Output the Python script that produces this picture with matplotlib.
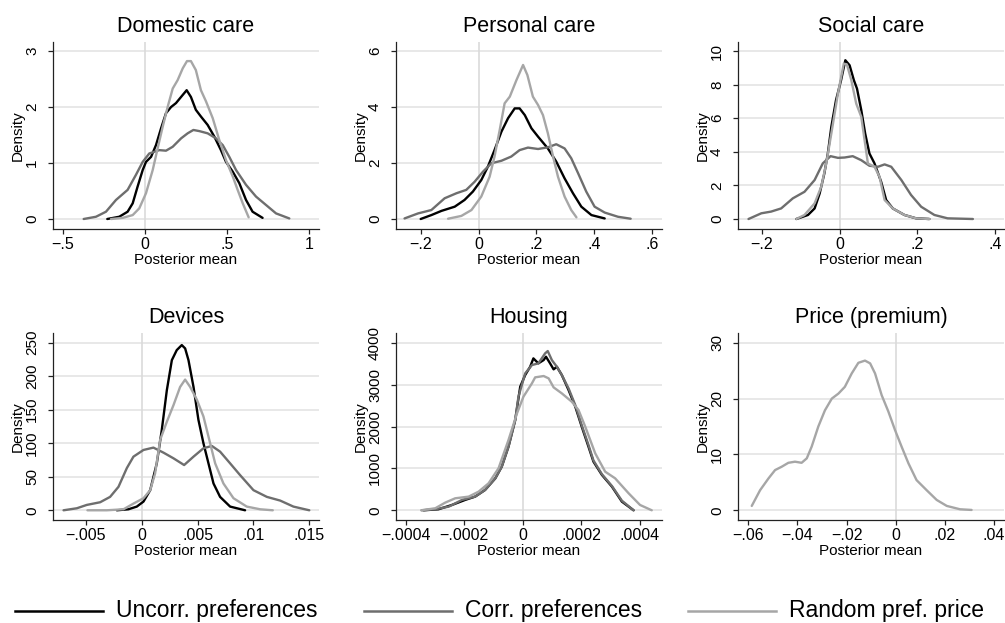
import matplotlib
matplotlib.use("Agg")
import matplotlib.pyplot as plt
from matplotlib.lines import Line2D

plt.rcParams['font.family'] = ['Liberation Sans', 'DejaVu Sans']

# ---------------- data ----------------
series_names = ["Uncorr. preferences", "Corr. preferences", "Random pref. price"]
series_colors = ["#000000", "#6e6e6e", "#a6a6a6"]

titles = ["Domestic care", "Personal care", "Social care", "Devices", "Housing", "Price (premium)"]

# Domestic care
dom_unc_x = [-0.23, -0.157, -0.106, -0.075, -0.045, -0.014, 0.006, 0.037, 0.067, 0.098, 0.128, 0.159, 0.189, 0.22, 0.254, 0.28, 0.31, 0.341, 0.382, 0.423, 0.463, 0.494, 0.535, 0.575, 0.616, 0.656, 0.717]
dom_unc_y = [0, 0.04, 0.13, 0.28, 0.58, 0.875, 1.02, 1.11, 1.32, 1.62, 1.89, 2.0, 2.07, 2.18, 2.30, 2.18, 1.95, 1.83, 1.68, 1.47, 1.23, 1.02, 0.845, 0.64, 0.34, 0.13, 0.02]
dom_cor_x = [-0.374, -0.299, -0.238, -0.177, -0.106, -0.055, -0.014, 0.026, 0.057, 0.087, 0.128, 0.169, 0.22, 0.26, 0.295, 0.331, 0.382, 0.433, 0.474, 0.514, 0.555, 0.616, 0.677, 0.738, 0.799, 0.88]
dom_cor_y = [0, 0.04, 0.13, 0.34, 0.52, 0.79, 1.02, 1.17, 1.20, 1.23, 1.22, 1.29, 1.44, 1.53, 1.59, 1.57, 1.53, 1.44, 1.32, 1.11, 0.875, 0.61, 0.40, 0.25, 0.10, 0.01]
dom_ran_x = [-0.207, -0.136, -0.075, -0.035, 0.006, 0.047, 0.077, 0.108, 0.138, 0.169, 0.199, 0.23, 0.256, 0.28, 0.31, 0.341, 0.372, 0.413, 0.453, 0.494, 0.535, 0.565, 0.596, 0.632]
dom_ran_y = [0, 0.02, 0.07, 0.19, 0.46, 0.875, 1.26, 1.65, 2.0, 2.33, 2.48, 2.69, 2.82, 2.82, 2.66, 2.30, 2.10, 1.80, 1.41, 1.05, 0.76, 0.52, 0.28, 0.03]

# Personal care
per_unc_x = [-0.201, -0.164, -0.129, -0.083, -0.049, -0.020, 0.009, 0.032, 0.055, 0.079, 0.102, 0.125, 0.142, 0.16, 0.183, 0.206, 0.24, 0.269, 0.298, 0.327, 0.356, 0.391, 0.437]
per_unc_y = [0, 0.14, 0.29, 0.44, 0.68, 0.98, 1.39, 1.87, 2.46, 3.12, 3.60, 3.95, 3.95, 3.71, 3.24, 2.94, 2.52, 2.05, 1.45, 0.92, 0.44, 0.14, 0.02]
per_cor_x = [-0.257, -0.210, -0.164, -0.118, -0.077, -0.043, -0.014, 0.015, 0.044, 0.079, 0.113, 0.142, 0.171, 0.206, 0.24, 0.269, 0.298, 0.321, 0.345, 0.373, 0.402, 0.437, 0.483, 0.527]
per_cor_y = [0.02, 0.20, 0.32, 0.74, 0.92, 1.04, 1.33, 1.69, 1.99, 2.08, 2.23, 2.46, 2.55, 2.50, 2.56, 2.67, 2.52, 2.17, 1.63, 0.98, 0.44, 0.23, 0.08, 0.01]
per_ran_x = [-0.106, -0.060, -0.025, 0.009, 0.038, 0.055, 0.073, 0.09, 0.108, 0.131, 0.154, 0.169, 0.188, 0.206, 0.223, 0.24, 0.258, 0.275, 0.298, 0.321, 0.339]
per_ran_y = [0.01, 0.11, 0.32, 0.80, 1.51, 2.23, 3.18, 4.13, 4.37, 4.96, 5.50, 5.14, 4.37, 4.07, 3.71, 3.06, 2.23, 1.51, 0.80, 0.32, 0.06]

# Social care
soc_unc_x = [-0.111, -0.081, -0.064, -0.051, -0.039, -0.030, -0.021, -0.009, 0.004, 0.015, 0.026, 0.037, 0.045, 0.056, 0.066, 0.077, 0.09, 0.107, 0.12, 0.137, 0.167, 0.197, 0.231]
soc_unc_y = [0, 0.24, 0.63, 1.52, 2.71, 3.90, 5.49, 7.07, 8.26, 9.45, 9.15, 8.26, 7.76, 6.48, 5.09, 3.90, 3.31, 2.22, 1.13, 0.63, 0.24, 0.04, 0]
soc_cor_x = [-0.234, -0.201, -0.176, -0.150, -0.120, -0.090, -0.064, -0.043, -0.023, -0.004, 0.013, 0.034, 0.056, 0.077, 0.099, 0.116, 0.133, 0.159, 0.184, 0.21, 0.244, 0.278, 0.343]
soc_cor_y = [0, 0.34, 0.44, 0.63, 1.23, 1.62, 2.32, 3.31, 3.74, 3.64, 3.66, 3.74, 3.50, 3.17, 3.11, 3.25, 3.11, 2.32, 1.43, 0.73, 0.24, 0.04, 0]
soc_ran_x = [-0.111, -0.090, -0.064, -0.047, -0.034, -0.021, -0.004, 0.011, 0.019, 0.030, 0.043, 0.056, 0.073, 0.09, 0.103, 0.116, 0.137, 0.167, 0.197, 0.231]
soc_ran_y = [0, 0.24, 0.93, 1.92, 3.31, 5.09, 7.47, 9.25, 9.2, 8.3, 6.87, 6.08, 3.31, 3.11, 2.51, 1.13, 0.63, 0.24, 0.04, 0]

# Devices
dev_unc_x = [-0.00224, -0.0012, -0.00045, 0.00015, 0.00075, 0.00134, 0.00179, 0.00224, 0.00269, 0.00313, 0.00358, 0.00388, 0.00418, 0.00463, 0.00507, 0.00552, 0.00597, 0.00642, 0.00701, 0.00791, 0.00925]
dev_unc_y = [0, 1.5, 5.5, 13, 30, 70, 120, 179, 224, 239, 246.5, 241.5, 224, 184, 135, 100, 70, 40, 20, 5.5, 0]
dev_cor_x = [-0.00701, -0.00582, -0.00493, -0.00373, -0.00284, -0.00209, -0.00134, -0.00075, 0.00015, 0.00104, 0.00194, 0.00284, 0.00379, 0.00463, 0.00552, 0.00627, 0.00701, 0.00791, 0.0088, 0.01, 0.0112, 0.01239, 0.01358, 0.015]
dev_cor_y = [0, 3, 8, 12, 20, 35, 63, 80, 90, 93.5, 86, 77.5, 67.5, 80, 92.5, 96, 87.5, 70, 52.5, 30, 20, 14.5, 5.5, 0]
dev_ran_x = [-0.00487, -0.00313, -0.00164, -0.00075, 0.00015, 0.00075, 0.00119, 0.00164, 0.00224, 0.00284, 0.00343, 0.00388, 0.00433, 0.00493, 0.00552, 0.00597, 0.00657, 0.00731, 0.00821, 0.0094, 0.0106, 0.01173]
dev_ran_y = [0, 0, 1.5, 10, 18, 30, 55, 105, 132, 157, 184, 195, 184, 165, 140, 110, 70, 40, 18, 5.5, 1.5, 0]

# Housing
hou_unc_x = [-0.000339, -0.000288, -0.000242, -0.000197, -0.000163, -0.000129, -0.000094, -0.000072, -0.000049, -0.000026, -0.000009, 0.000008, 0.000025, 0.000036, 0.000053, 0.000071, 0.000079, 0.000093, 0.000105, 0.000116, 0.000133, 0.000156, 0.000179, 0.000201, 0.000224, 0.000241, 0.00027, 0.000304, 0.000338, 0.000378]
hou_unc_y = [0, 24, 127, 247, 326, 485, 763, 1042, 1519, 2155, 2950, 3229, 3427, 3626, 3507, 3586, 3666, 3507, 3364, 3427, 3229, 2871, 2473, 1996, 1519, 1161, 843, 565, 207, 0]
hou_cor_x = [-0.000345, -0.000299, -0.000253, -0.000208, -0.000163, -0.000129, -0.000094, -0.000072, -0.000049, -0.000026, -0.000015, 0.000008, 0.000031, 0.000053, 0.000076, 0.000085, 0.000099, 0.000116, 0.000133, 0.000156, 0.000179, 0.000201, 0.000224, 0.000241, 0.00027, 0.000304, 0.000338, 0.000378]
hou_cor_y = [0, 24, 87, 247, 326, 485, 763, 1042, 1519, 2155, 2712, 3268, 3467, 3507, 3746, 3801, 3586, 3427, 3229, 2910, 2510, 2030, 1560, 1190, 860, 580, 230, 0]
hou_ran_x = [-0.000347, -0.000299, -0.000265, -0.000231, -0.000185, -0.000151, -0.000117, -0.000083, -0.000049, -0.00002, 0.000002, 0.000031, 0.000042, 0.000071, 0.000088, 0.000105, 0.000133, 0.000167, 0.00019, 0.000213, 0.000247, 0.000281, 0.000315, 0.000361, 0.0004, 0.00044]
hou_ran_y = [0, 48, 183, 286, 326, 445, 644, 1002, 1678, 2314, 2712, 3030, 3173, 3205, 3149, 2934, 2791, 2592, 2394, 1996, 1360, 922, 763, 406, 127, 0]

# Price (premium) - only random preference price model
pri_ran_x = [-0.0586, -0.0552, -0.0518, -0.0491, -0.0464, -0.0437, -0.041, -0.0383, -0.0362, -0.0342, -0.0315, -0.0288, -0.026, -0.0233, -0.0207, -0.0179, -0.0152, -0.0125, -0.0104, -0.0084, -0.0057, -0.003, -0.0003, 0.0024, 0.0052, 0.0085, 0.0126, 0.0167, 0.0208, 0.0262, 0.0309]
pri_ran_y = [0.78, 3.6, 5.7, 7.2, 7.8, 8.5, 8.7, 8.5, 9.3, 11.4, 15.0, 17.9, 20.0, 20.9, 22.1, 24.5, 26.4, 26.8, 26.3, 24.5, 20.6, 17.7, 14.4, 11.4, 8.4, 5.4, 3.6, 1.85, 0.78, 0.18, 0.06]

# ticks
xticks = [
    [-0.5, 0, 0.5, 1],
    [-0.2, 0, 0.2, 0.4, 0.6],
    [-0.2, 0, 0.2, 0.4],
    [-0.005, 0, 0.005, 0.01, 0.015],
    [-0.0004, -0.0002, 0, 0.0002, 0.0004],
    [-0.06, -0.04, -0.02, 0, 0.02, 0.04],
]
xticklabels = [
    ["\u2212.5", "0", ".5", "1"],
    ["\u2212.2", "0", ".2", ".4", ".6"],
    ["\u2212.2", "0", ".2", ".4"],
    ["\u2212.005", "0", ".005", ".01", ".015"],
    ["\u2212.0004", "\u2212.0002", "0", ".0002", ".0004"],
    ["\u2212.06", "\u2212.04", "\u2212.02", "0", ".02", ".04"],
]
yticks = [
    [0, 1, 2, 3],
    [0, 2, 4, 6],
    [0, 2, 4, 6, 8, 10],
    [0, 50, 100, 150, 200, 250],
    [0, 1000, 2000, 3000, 4000],
    [0, 10, 20, 30],
]

curves = [
    [(dom_unc_x, dom_unc_y, 0), (dom_cor_x, dom_cor_y, 1), (dom_ran_x, dom_ran_y, 2)],
    [(per_unc_x, per_unc_y, 0), (per_cor_x, per_cor_y, 1), (per_ran_x, per_ran_y, 2)],
    [(soc_unc_x, soc_unc_y, 0), (soc_cor_x, soc_cor_y, 1), (soc_ran_x, soc_ran_y, 2)],
    [(dev_unc_x, dev_unc_y, 0), (dev_cor_x, dev_cor_y, 1), (dev_ran_x, dev_ran_y, 2)],
    [(hou_unc_x, hou_unc_y, 0), (hou_cor_x, hou_cor_y, 1), (hou_ran_x, hou_ran_y, 2)],
    [(pri_ran_x, pri_ran_y, 2)],
]

# ---------------- layout ----------------
W, H = 1005, 623
fig = plt.figure(figsize=(W / 100, H / 100), dpi=100)

# axes rectangles in pixels: left, top, right, bottom
rects = [
    (53, 42, 319, 229), (396, 42, 662, 229), (738, 42, 1004, 229),
    (53, 333, 319, 520), (396, 333, 662, 520), (738, 333, 1004, 520),
]
xlims = [(-0.561, 1.061), (-0.2866, 0.6357), (-0.261, 0.423),
         (-0.007955, 0.01587), (-0.000433, 0.000475), (-0.0642, 0.0441)]
ylims = [(-0.1786, 3.161), (-0.357, 6.321), (-0.595, 10.536),
         (-14.5, 264.5), (-232, 4232), (-1.74, 31.74)]

grid_col = "#e4e4e4"
for i in range(6):
    l, t, r, b = rects[i]
    ax = fig.add_axes([l / W, 1 - b / H, (r - l) / W, (b - t) / H])
    for s in ("top", "right"):
        ax.spines[s].set_visible(False)
    for s in ("left", "bottom"):
        ax.spines[s].set_linewidth(0.9)
        ax.spines[s].set_color("#222222")
    for yt in yticks[i]:
        ax.axhline(yt, color=grid_col, lw=1.2, zorder=0)
    ax.axvline(0, color="#dadada", lw=1.2, zorder=0.5)
    for xs, ys, k in curves[i]:
        ax.plot(xs, ys, color=series_colors[k], lw=1.7, zorder=2 + k,
                solid_joinstyle="round", solid_capstyle="round")
    ax.set_xlim(*xlims[i])
    ax.set_ylim(*ylims[i])
    ax.set_xticks(xticks[i])
    ax.set_xticklabels(xticklabels[i])
    ax.set_yticks(yticks[i])
    ax.set_yticklabels([str(v) for v in yticks[i]])
    ax.tick_params(axis="x", length=3.6, width=0.9, pad=2.5, labelsize=11.5, color="#222222")
    ax.tick_params(axis="y", length=3.6, width=0.9, pad=6.5, labelsize=11, color="#222222",
                   labelrotation=90)
    for lab in ax.get_yticklabels():
        lab.set_va("center")
    ax.set_title(titles[i], fontsize=15.5, pad=7.5)
    ax.set_xlabel("Posterior mean", fontsize=11)
    ax.xaxis.set_label_coords(0.5, -31 / 187)
    ax.xaxis.label.set_va("center")
    ax.set_ylabel("Density", fontsize=11)
    ax.yaxis.set_label_coords(-35 / 266, 0.5)
    ax.yaxis.label.set_va("center")

# ---------------- legend ----------------
leg_y = 1 - 611 / H
leg_items = [(15, 103, 116), (364, 452, 465), (688, 776, 789)]
for (x0, x1, tx), name, col in zip(leg_items, series_names, series_colors):
    fig.add_artist(Line2D([x0 / W, x1 / W], [leg_y, leg_y], color=col, lw=1.8,
                          transform=fig.transFigure))
    fig.text(tx / W, leg_y, name, fontsize=16.5, va="center", ha="left")

fig.savefig("out.png", dpi=100, facecolor="white")
